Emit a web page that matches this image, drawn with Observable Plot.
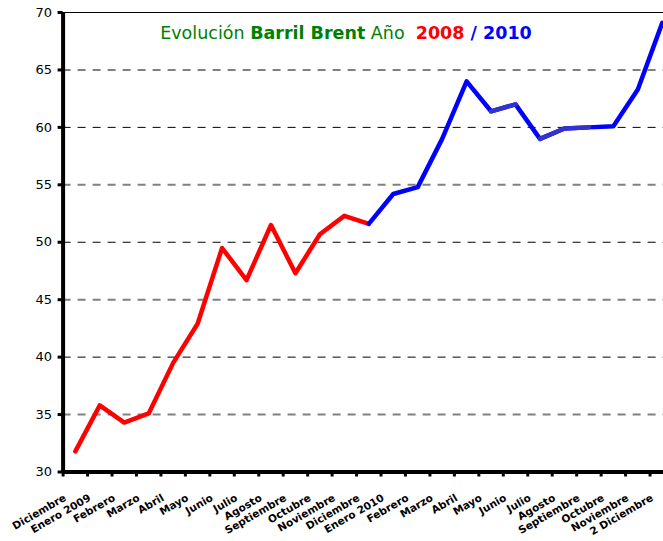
<!DOCTYPE html>
<html>
<head>
<meta charset="utf-8">
<script src="https://cdn.jsdelivr.net/npm/d3@7"></script>
<script src="https://cdn.jsdelivr.net/npm/@observablehq/plot@0.6"></script>
<style>
  html, body { margin: 0; padding: 0; background: #fff; overflow: hidden; }
  #chart { width: 663px; height: 541px; overflow: hidden; }
</style>
</head>
<body>
<div id="chart"></div>
<script>
const months = ["Diciembre","Enero 2009","Febrero","Marzo","Abril","Mayo","Junio","Julio","Agosto","Septiembre","Octubre","Noviembre","Diciembre","Enero 2010","Febrero","Marzo","Abril","Mayo","Junio","Julio","Agosto","Septiembre","Octubre","Noviembre","2 Diciembre"];
const prices = [31.8,35.8,34.3,35.1,39.5,42.9,49.5,46.7,51.5,47.3,50.7,52.3,51.6,54.2,54.8,59.0,64.0,61.4,62.0,59.0,59.9,60.0,60.1,63.3,69.1];
const yTicks = [30,35,40,45,50,55,60,65,70];
const split2008 = 12;           // last index of the 2008/2009 (red) stretch
const shadedSegments = [17,19,20]; // segments drawn in the darker blue

const rows = months.map((m, i) => ({i, month: m, price: prices[i]}));
const red = rows.slice(0, split2008 + 1);
const blue = rows.slice(split2008);
const shaded = shadedSegments.map(s => ({x1: s, y1: prices[s], x2: s + 1, y2: prices[s + 1]}));
const edges = months.map((m, i) => i - 0.5);
const gridGray = yTicks.filter((d, k) => d > 30 && d < 70 && k % 2 === 1);
const gridBlack = yTicks.filter((d, k) => d > 30 && d < 70 && k % 2 === 0);

const W = 663, H = 541;
const mL = 62.6, mT = 12, mB = 69.5;
const xRight = 674;

const plot = Plot.plot({
  width: W,
  height: H,
  marginLeft: mL,
  marginTop: mT,
  marginBottom: mB,
  marginRight: W - xRight,
  style: {fontFamily: "DejaVu Sans", background: "#fff", color: "#000"},
  x: {domain: [-0.5, months.length - 0.5], range: [mL, xRight]},
  y: {domain: [30, 70], range: [H - mB, mT]},
  marks: [
    Plot.ruleY(gridGray, {stroke: "#808080", strokeWidth: 2, strokeDasharray: "8,7"}),
    Plot.ruleY(gridBlack, {stroke: "#000", strokeWidth: 1, strokeDasharray: "8,7"}),
    Plot.ruleY([70], {stroke: "#000", strokeWidth: 1}),
    Plot.line(red, {x: "i", y: "price", stroke: "#ff0000", strokeWidth: 4.5, strokeLinejoin: "round", strokeLinecap: "round"}),
    Plot.line(blue, {x: "i", y: "price", stroke: "#0000ff", strokeWidth: 4.5, strokeLinejoin: "round", strokeLinecap: "round"}),
    Plot.link(shaded, {x1: "x1", y1: "y1", x2: "x2", y2: "y2", stroke: "#3333cc", strokeWidth: 4.5, strokeLinecap: "round"}),
    Plot.axisY({ticks: yTicks, tickSize: 5, tickPadding: 6, fontSize: 13, strokeWidth: 3, tickFormat: d => String(d)}),
    Plot.axisX({ticks: edges, tickSize: 5, tickFormat: () => "", strokeWidth: 3}),
    Plot.ruleX([-0.5], {stroke: "#000", strokeWidth: 4}),
    Plot.ruleY([30], {stroke: "#000", strokeWidth: 4}),
    Plot.text(rows, {x: "i", y: 30, text: "month", rotate: -30, textAnchor: "end", dx: -10, dy: 25, fontSize: 10.5, fontWeight: "bold"})
  ]
});

document.getElementById("chart").appendChild(plot);

const svg = d3.select(plot);
const title = svg.append("text")
  .attr("x", 346)
  .attr("y", 39)
  .attr("text-anchor", "middle")
  .attr("font-family", "DejaVu Sans")
  .attr("font-size", 17.5);
title.append("tspan").attr("fill", "#008000").text("Evolución ");
title.append("tspan").attr("fill", "#008000").attr("font-weight", "bold").text("Barril Brent");
title.append("tspan").attr("fill", "#008000").text(" Año  ");
title.append("tspan").attr("fill", "#ff0000").attr("font-weight", "bold").text("2008");
title.append("tspan").attr("fill", "#0000ff").attr("font-weight", "bold").text(" / 2010");
</script>
</body>
</html>
